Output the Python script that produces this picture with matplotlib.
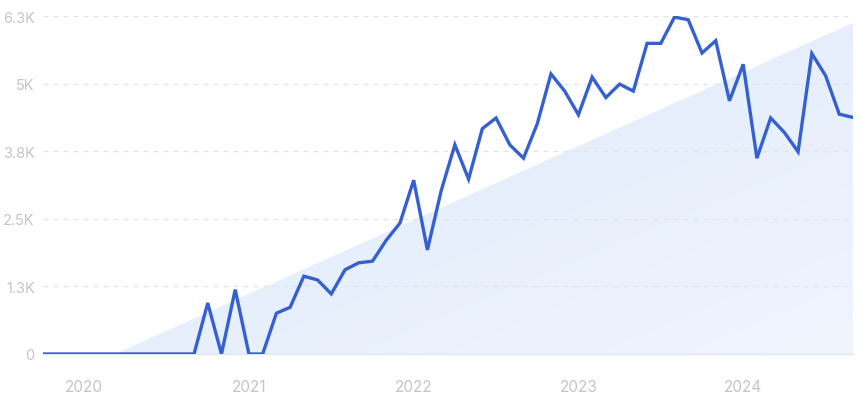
import numpy as np
import matplotlib.pyplot as plt
from matplotlib.patches import Polygon
from matplotlib.colors import LinearSegmentedColormap

# monthly values, Oct 2019 .. Sep 2024
months = np.arange(60)
values = [0, 0, 0, 0, 0, 0, 0, 0, 0, 0, 0, 0,
          950, 0, 1200, 0, 0, 760, 870, 1450, 1380, 1120, 1570, 1700,
          1730, 2120, 2440, 3240, 1940, 3040, 3900, 3260, 4200, 4400, 3900, 3650,
          4290, 5220, 4900, 4460, 5160, 4780, 5030, 4900, 5790, 5790, 6280, 6230,
          5610, 5840, 4720, 5400, 3650, 4400, 4130, 3770, 5600, 5190, 4470, 4410]

year_labels = ["2020", "2021", "2022", "2023", "2024"]
year_pos = [3, 15, 27, 39, 51]
y_ticks = [0, 1260, 2520, 3780, 5040, 6300]
y_labels = ["0", "1.3K", "2.5K", "3.8K", "5K", "6.3K"]

# background trend triangle (decoration)
tri_x = [5.25, 59, 59]
tri_y = [0, 6170, 0]

plt.rcParams['font.family'] = ['Inter', 'DejaVu Sans']

fig = plt.figure(figsize=(8.6, 4.02), dpi=100)
ax = fig.add_axes([43 / 860, 47 / 402, 810 / 860, 338 / 402])

# gradient-filled triangle, darker top-left -> lighter bottom-right
tri = Polygon(list(zip(tri_x, tri_y)), closed=True, facecolor="none", edgecolor="none")
ax.add_patch(tri)
cmap = LinearSegmentedColormap.from_list("tri", ["#dce8fa", "#f0f5fe"])
gx, gy = np.meshgrid(np.linspace(0, 1, 200), np.linspace(0, 1, 200))
gimg = (gx + gy) / 2
im = ax.imshow(gimg, cmap=cmap, extent=[0, 59, 0, 6300], origin="upper",
               aspect="auto", zorder=1)
im.set_clip_path(tri)

ax.plot(months, values, color="#3560cf", linewidth=2.4, zorder=3,
        solid_joinstyle="miter")

ax.set_xlim(0, 59)
ax.set_ylim(0, 6300)
ax.set_yticks(y_ticks)
ax.set_yticklabels(y_labels)
ax.set_xticks(year_pos)
ax.set_xticklabels(year_labels)

ax.grid(axis="y", color="#dfe5ee", linestyle=(0, (4, 4)), linewidth=0.9, zorder=0)
ax.tick_params(axis="both", length=0, colors="#c4c4c4", labelsize=10.5)
ax.tick_params(axis="y", pad=6)
ax.tick_params(axis="x", pad=18, labelsize=11)
for s in ["top", "right", "left"]:
    ax.spines[s].set_visible(False)
ax.spines["bottom"].set_color("#dfe6f0")
ax.spines["bottom"].set_linewidth(1)

plt.savefig("out.png", dpi=100)
